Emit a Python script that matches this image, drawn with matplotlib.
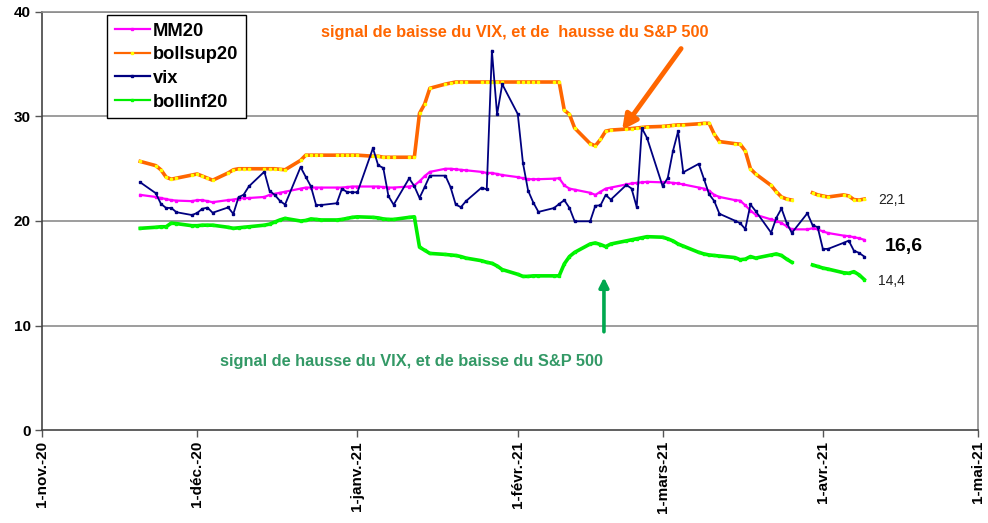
import numpy as np
import pandas as pd
import matplotlib
matplotlib.use("Agg")
import matplotlib.pyplot as plt

plt.rcParams['font.family'] = ['Liberation Sans', 'DejaVu Sans']

# ---- data (weekdays 20 Nov 2020 -> 9 Apr 2021) ----
dates = pd.bdate_range("2020-11-20", "2021-04-09")

vix = [23.70,
       22.66, 21.64, 21.25, 21.25, 20.84,
       20.57, 20.77, 21.17, 21.28, 20.79,
       21.30, 20.68, 22.27, 22.52, 23.31,
       24.72, 22.89, 22.50, 21.93, 21.57,
       25.16, 24.23, 23.31, 21.53, 21.53,
       21.70, 23.08, 22.77, 22.75, 22.75,
       26.97, 25.34, 25.07, 22.37, 21.56,
       24.08, 23.33, 22.21, 23.25, 24.34,
       24.34, 23.24, 21.58, 21.32, 21.91,
       23.19, 23.02, 36.30, 30.21, 33.09,
       30.24, 25.56, 22.91, 21.77, 20.87,
       21.24, 21.63, 21.99, 21.25, 19.97,
       19.97, 21.46, 21.50, 22.49, 22.05,
       23.45, 23.11, 21.34, 28.89, 27.95,
       23.35, 24.10, 26.67, 28.57, 24.66,
       25.47, 24.03, 22.56, 21.91, 20.69,
       20.03, 19.79, 19.23, 21.58, 20.95,
       18.88, 20.30, 21.20, 19.81, 18.86,
       20.74, 19.61, 19.40, 17.33, 17.33,
       17.91, 18.12, 17.16, 16.95, 16.60]

mm20 = [22.5,
        22.3, 22.2, 22.1, 22.0, 21.95,
        21.9, 22.0, 22.0, 21.9, 21.8,
        22.0, 22.05, 22.15, 22.2, 22.2,
        22.3, 22.5, 22.6, 22.7, 22.8,
        23.1, 23.2, 23.2, 23.2, 23.2,
        23.2, 23.2, 23.25, 23.3, 23.3,
        23.3, 23.3, 23.25, 23.2, 23.2,
        23.3, 23.4, 23.8, 24.3, 24.7,
        25.0, 25.0, 24.95, 24.9, 24.85,
        24.7, 24.6, 24.6, 24.5, 24.4,
        24.2, 24.1, 24.0, 24.0, 24.0,
        24.05, 24.1, 23.4, 23.1, 23.0,
        22.7, 22.5, 22.8, 23.1, 23.2,
        23.5, 23.6, 23.65, 23.7, 23.75,
        23.7, 23.7, 23.65, 23.6, 23.5,
        23.2, 23.1, 22.9, 22.5, 22.3,
        22.0, 21.95, 21.5, 21.0, 20.6,
        20.15, 20.0, 19.8, 19.5, 19.2,
        19.2, 19.3, 19.2, 19.0, 18.85,
        18.6, 18.55, 18.45, 18.35, 18.2]

bollsup20 = [25.7,
             25.3, 24.9, 24.2, 24.0, 24.1,
             24.4, 24.5, 24.3, 24.1, 23.9,
             24.6, 24.9, 25.0, 25.0, 25.0,
             25.0, 25.0, 25.0, 24.95, 24.9,
             25.8, 26.3, 26.3, 26.3, 26.3,
             26.3, 26.3, 26.3, 26.3, 26.3,
             26.2, 26.2, 26.1, 26.1, 26.1,
             26.1, 26.1, 30.3, 31.2, 32.7,
             33.1, 33.2, 33.3, 33.3, 33.3,
             33.3, 33.3, 33.3, 33.3, 33.3,
             33.3, 33.3, 33.3, 33.3, 33.3,
             33.3, 33.3, 30.6, 30.2, 28.9,
             27.4, 27.2, 27.8, 28.6, 28.7,
             28.8, 28.85, 28.9, 28.95, 29.0,
             29.05, 29.1, 29.15, 29.2, 29.2,
             29.3, 29.35, 29.35, 28.3, 27.6,
             27.4, 27.35, 26.7, 25.0, 24.5,
             23.4, 22.8, 22.3, 22.1, 22.0,
             np.nan, 22.7, 22.5, 22.4, 22.3,
             22.5, 22.4, 22.05, 22.0, 22.1]

bollinf20 = [19.3,
             19.4, 19.45, 19.45, 19.8, 19.75,
             19.55, 19.55, 19.6, 19.6, 19.6,
             19.4, 19.3, 19.35, 19.4, 19.45,
             19.6, 19.7, 19.9, 20.1, 20.25,
             20.0, 20.05, 20.2, 20.15, 20.1,
             20.1, 20.15, 20.25, 20.35, 20.4,
             20.35, 20.3, 20.2, 20.15, 20.15,
             20.35, 20.4, 17.5, 17.2, 16.9,
             16.8, 16.75, 16.7, 16.6, 16.45,
             16.2, 16.05, 15.95, 15.7, 15.35,
             14.9, 14.7, 14.7, 14.75, 14.75,
             14.75, 14.75, 15.9, 16.6, 17.0,
             17.8, 17.9, 17.75, 17.55, 17.8,
             18.1, 18.2, 18.3, 18.4, 18.5,
             18.45, 18.3, 18.1, 17.8, 17.6,
             17.0, 16.85, 16.75, 16.7, 16.65,
             16.5, 16.3, 16.35, 16.6, 16.45,
             16.75, 16.85, 16.7, 16.35, 16.05,
             np.nan, 15.8, 15.65, 15.5, 15.4,
             15.05, 15.0, 15.15, 14.85, 14.4]

tick_dates = pd.to_datetime(["2020-11-01", "2020-12-01", "2021-01-01", "2021-02-01",
                             "2021-03-01", "2021-04-01", "2021-05-01"])
tick_labels = ["1-nov.-20", "1-déc.-20", "1-janv.-21", "1-févr.-21",
               "1-mars-21", "1-avr.-21", "1-mai-21"]
y_ticks = [0, 10, 20, 30, 40]

# ---- figure ----
fig = plt.figure(figsize=(9.88, 5.23), dpi=100)
ax = fig.add_axes([42/988, 1-430/523, (978-42)/988, (430-12)/523])

ax.set_xlim(tick_dates[0], tick_dates[-1])
ax.set_ylim(0, 40)

for y in y_ticks[1:]:
    ax.axhline(y, color="#8c8c8c", lw=1.2, zorder=0)

ax.plot(dates, mm20, color="#FF00FF", lw=1.6, marker="s", ms=1.6,
        mec="#FF00FF", mfc="#FF00FF", label="MM20", zorder=3)
ax.plot(dates, bollsup20, color="#FF6600", lw=2.6, marker="s", ms=1.7,
        mfc="#FFFF00", mec="#FFFF00", label="bollsup20", zorder=3)
ax.plot(dates, vix, color="#000080", lw=1.3, marker="s", ms=1.8,
        mfc="#000080", mec="#000080", label="vix", zorder=4)
ax.plot(dates, bollinf20, color="#00EE00", lw=2.6, marker="s", ms=1.5,
        mfc="#00FF00", mec="#00FF00", label="bollinf20", zorder=3)

ax.set_xticks(tick_dates)
ax.set_xticklabels(tick_labels, rotation=90, fontsize=11, fontweight="bold")
ax.set_yticks(y_ticks)
ax.set_yticklabels([str(v) for v in y_ticks], fontsize=11, fontweight="bold")
ax.tick_params(axis="both", direction="out", length=5, width=1, color="#555555", pad=3)

for s in ["left", "bottom"]:
    ax.spines[s].set_color("#444444")
    ax.spines[s].set_linewidth(1.2)
for s in ["right", "top"]:
    ax.spines[s].set_color("#8c8c8c")
    ax.spines[s].set_linewidth(1.2)

leg = ax.legend(loc="upper left", bbox_to_anchor=((107-42)/936, (430-15)/418),
                frameon=True, fancybox=False, edgecolor="black", framealpha=1,
                prop={"weight": "bold", "size": 13.2}, handlelength=1.9,
                handletextpad=0.2, labelspacing=0.36, borderpad=0.42,
                borderaxespad=0)
leg.get_frame().set_linewidth(1.0)
for ln in leg.get_lines():
    ln.set_linewidth(1.6)
    ln.set_markersize(2.0)

# annotations
ax.text(pd.Timestamp("2021-01-31 12:00"), 38.0,
        "signal de baisse du VIX, et de  hausse du S&P 500",
        color="#FF6600", fontsize=11.8, fontweight="bold", ha="center", va="center")
ax.annotate("", xy=(pd.Timestamp("2021-02-21 04:00"), 28.7),
            xytext=(pd.Timestamp("2021-03-04 14:00"), 36.5),
            arrowprops=dict(arrowstyle="-|>", color="#FF6600", lw=3.5,
                            mutation_scale=22, shrinkA=0, shrinkB=0))
ax.text(pd.Timestamp("2021-01-11 12:00"), 6.6,
        "signal de hausse du VIX, et de baisse du S&P 500",
        color="#339966", fontsize=11.8, fontweight="bold", ha="center", va="center")
ax.annotate("", xy=(pd.Timestamp("2021-02-17 16:00"), 14.6),
            xytext=(pd.Timestamp("2021-02-17 16:00"), 9.4),
            arrowprops=dict(arrowstyle="-|>", color="#00A84F", lw=2.6,
                            mutation_scale=14, shrinkA=0, shrinkB=0))

ax.text(pd.Timestamp("2021-04-11 16:00"), 22.0, "22,1", fontsize=10,
        color="#222222", ha="left", va="center")
ax.text(pd.Timestamp("2021-04-13 00:00"), 17.6, "16,6", fontsize=14,
        fontweight="bold", color="black", ha="left", va="center")
ax.text(pd.Timestamp("2021-04-11 16:00"), 14.3, "14,4", fontsize=10,
        color="#222222", ha="left", va="center")

fig.savefig("out.png", dpi=100)
